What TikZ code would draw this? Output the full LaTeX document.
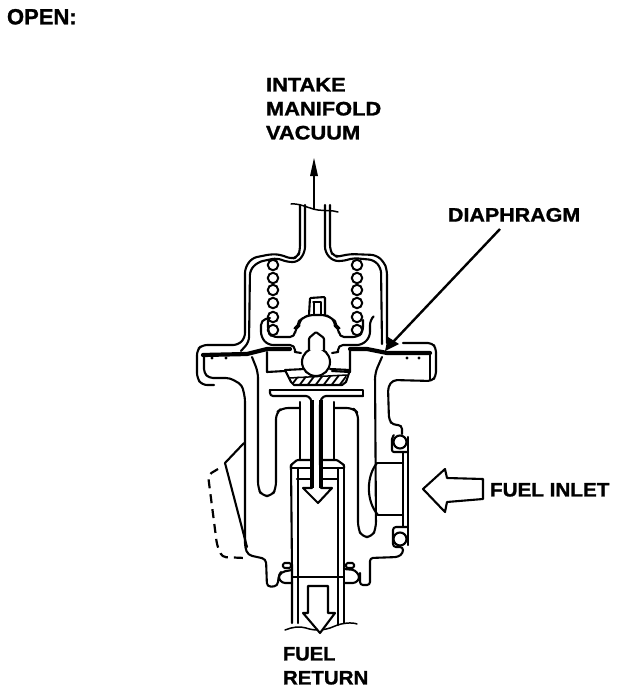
\documentclass[tikz,border=0pt]{standalone}
\usepackage{fontspec}
\setmainfont[BoldFeatures={FakeBold=1.2}]{Liberation Sans}
\tikzset{
  ln/.style={line width=2.1pt,line join=round,line cap=round,draw=black},
  thin ln/.style={line width=1.5pt,line join=round,line cap=round,draw=black},
  rc/.style={rounded corners=#1},
  hvy/.style={line width=4.2pt,line join=round,line cap=round,draw=black},
  lbl/.style={inner sep=0pt,outer sep=0pt,font=\bfseries\fontsize{19.5}{24}\selectfont,align=left,anchor=north west},
  coil/.style={line width=2pt,draw=black,fill=white}
}
\newcommand{\wdx}[2]{\scalebox{#1}[1]{#2}}
\begin{document}
\begin{tikzpicture}[x=1pt,y=-1pt]
\useasboundingbox[fill=white] (0,0) rectangle (624,694);
% labels
\node[lbl,font=\bfseries\fontsize{22}{24}\selectfont] (open) at (7,9) {OPEN:};
\node[lbl] (intake) at (266,78) {\wdx{1.12}{INTAKE}\\\wdx{1.12}{MANIFOLD}\\\wdx{1.12}{VACUUM}};
\node[lbl] (diaphragm) at (448,208) {\wdx{1.1}{DIAPHRAGM}};
\node[lbl] (inlet) at (490,483) {\wdx{1.06}{FUEL INLET}};
\node[lbl] (return) at (283,647) {\wdx{1.03}{FUEL}\\\wdx{1.05}{RETURN}};
% spring coils
\foreach \y in {265,278,290,303,317,330}{\draw[coil] (273,\y) circle (5.2);\draw[coil] (357,\y) circle (5.2);}
% upper housing, outer
\draw[ln,rc=5pt] (300,205) -- (300,250) -- (298,257) -- (291,259) -- (282,255) -- (272,254) -- (252,258) -- (245,268) -- (245,338) -- (238,345) -- (202,345) -- (197,350) -- (197,378) -- (202,385) -- (214,385);
\draw[ln,rc=4pt] (204,355) -- (204,373) -- (209,378) -- (230,378) -- (242,385) -- (245,398) -- (245,547) -- (248,555) -- (266,559) -- (267,587) -- (278,586) -- (278,578) -- (281,572) -- (292,570);
\draw[ln,rc=5pt] (330,205) -- (330,250) -- (334,257) -- (341,256) -- (350,254) -- (376,255) -- (384,262) -- (387,270) -- (387,343);
\draw[ln,rc=4pt] (403,343) -- (432,343) -- (436,348) -- (436,376) -- (432,381) -- (393,380) -- (388,387) -- (389,420) -- (393,425) -- (402,425) -- (402,434);
% upper housing, inner
\draw[ln,rc=5pt] (305,205) -- (305,252) -- (298,262) -- (287,262) -- (277,258) -- (258,262) -- (250,270) -- (249,342) -- (241,351);
\draw[ln,rc=5pt] (325,205) -- (325,252) -- (333,261) -- (344,261) -- (353,258) -- (374,260) -- (381,268) -- (382,344);
\draw[ln] (430,353) -- (430,380);
% chamber walls
\draw[ln,rc=6pt] (252,357) -- (258,372) -- (258,488) -- (262,496) -- (272,496) -- (276,488) -- (276,413) -- (282,408) -- (300,408);
\draw[ln,rc=6pt] (382,357) -- (375,373) -- (376,528) -- (372,537) -- (362,537) -- (358,528) -- (358,413) -- (353,408) -- (335,408);
% diaphragm
\draw[hvy] (203,355) -- (247,354) -- (267,349) -- (290,349);
\draw[hvy] (350,349) -- (367,349) -- (387,353) -- (430,353);
\foreach \x in {212,226,407,419}{\fill (\x,358) circle (1.6);}
% retainer
\draw[ln,rc=5pt] (270,318) -- (261,320) -- (261,337) -- (268,345) -- (295,345) -- (295,352);
\draw[ln,rc=5pt] (268,320) -- (268,332) -- (272,337) -- (295,337) -- (295,328) -- (299,326) -- (299,321) -- (303,318) -- (309,315) -- (326,315) -- (331,318) -- (335,321) -- (335,326) -- (339,328) -- (339,337) -- (358,337) -- (363,332) -- (363,320);
\draw[ln,rc=5pt] (372,318) -- (370,320) -- (370,337) -- (362,345) -- (338,345) -- (338,352);
\draw[ln,rc=1pt] (309,315) -- (310,298) -- (325,297) -- (325,315);
\draw[thin ln] (313,302) -- (321,302) (314,302) -- (314,314) (321,302) -- (321,314);
% valve seat and hatched part
\draw[ln] (295,352) -- (301,353);
\draw[ln] (338,352) -- (332,353);
\draw[ln] (267,352) -- (267,372) -- (285,371);
\draw[ln] (350,351) -- (350,372) -- (332,371);
\begin{scope}
\clip (290,377) -- (347,375) -- (343,385) -- (293,385) -- cycle;
\foreach \x in {290,298,...,354}{\draw[line width=1.8pt] (\x,387) -- (\x+10,374);}
\end{scope}
\draw[ln] (285,370) -- (291,382) -- (294,385) -- (342,385) -- (346,382) -- (350,370) -- (330,369) (285,370) -- (305,369);
\draw[thin ln] (289,378) -- (347,375);
% ball and stem
\draw[ln,fill=white] (316,362) circle (14);
\draw[ln,fill=white,rc=1pt] (309,350) -- (309,338) -- (316,332) -- (324,338) -- (324,350);
% plate
\draw[ln] (270,390) -- (363,390) -- (363,396);
\draw[ln,rc=3pt] (363,396) -- (323,396) -- (320,402) -- (320,465);
\draw[ln,rc=3pt] (270,390) -- (270,396) -- (309,396) -- (312,402) -- (312,465);
\draw[line width=3.4pt] (312,400) -- (312,488);
\draw[line width=3.4pt] (321,400) -- (321,488);
\draw[ln] (300,402) -- (300,460);
\draw[ln] (334,402) -- (334,460);
% cylinder
\draw[ln,rc=1pt] (291,468) -- (291,465) -- (297,460) -- (311,460);
\draw[ln,rc=1pt] (344,468) -- (344,465) -- (337,460) -- (322,460);
\draw[ln] (291,468) -- (311,468) (322,468) -- (344,468);
\draw[ln] (297,479) -- (311,479) (322,479) -- (338,479);
\draw[ln] (291,465) -- (292,570) -- (292,623);
\draw[ln] (298,468) -- (298,623);
\draw[ln] (338,468) -- (338,625);
\draw[ln] (344,465) -- (344,570) -- (344,623);
% inner arrow
\draw[ln] (312,488) -- (303,488) -- (318,503) -- (332,488) -- (321,488);
% collar
\draw[line width=2.4pt] (292,577) -- (344,577);
\draw[ln,rc=3pt] (281,572) -- (278,577) -- (282,583) -- (292,583);
\draw[ln,rc=3pt] (344,583) -- (356,583) -- (360,577) -- (355,570) -- (344,569);
\draw[ln,rc=3pt] (360,573) -- (360,585) -- (370,585) -- (370,558) -- (398,557) -- (403,553) -- (403,547) -- (393,547) -- (393,527) -- (407,527);
\draw[ln,fill=white,rc=1.5pt] (283,563) rectangle (291,568);
\draw[ln,fill=white,rc=1.5pt] (346,563) rectangle (354,568);
% inlet side
\draw[ln,rc=2pt] (394,435) -- (392,437) -- (392,452) -- (408,452);
\draw[ln] (408,437) -- (408,545);
\draw[ln] (403,452) -- (403,527);
\draw[ln] (377,463) -- (403,463);
\draw[ln] (378,515) -- (403,515);
\draw[ln] (377,463) .. controls (367,475) and (365,500) .. (378,515);
\draw[ln] (400,442) circle (6.5);
\draw[ln] (400,539) circle (6.5);
% tube breaks
\draw[thin ln] (291,204) .. controls (300,203) and (310,209) .. (318,210) .. controls (325,211) and (332,210) .. (338,212);
\draw[thin ln] (285,630) .. controls (292,627) and (300,626) .. (306,628) .. controls (312,630) and (322,632) .. (335,626) .. controls (342,623) and (352,622) .. (357,624);
% dashed shell
\draw[ln] (244,443) -- (225,463) -- (247,547);
\draw[line width=2.2pt,dash pattern=on 9pt off 6pt,rc=4pt] (218,469) -- (208,475) -- (217,545) -- (222,557) -- (245,558);
% outlet arrow
\draw[ln,fill=white] (308,586) -- (328,586) -- (328,613) -- (335,613) -- (320,633) -- (303,613) -- (308,613) -- cycle;
% vacuum arrow
\coordinate (tubetop) at (314,210);
\coordinate (vacuumtip) at (314,158);
\draw[line width=2.2pt] (tubetop) -- (314,172);
\fill (vacuumtip) -- (318,176) -- (310,176) -- cycle;
% diaphragm leader
\coordinate (leaderstart) at (500,229);
\coordinate (leadertip) at (385,351);
\draw[line width=2.4pt] (leaderstart) -- (393,342);
\fill (leadertip) -- (388,337) -- (399,344) -- cycle;
% inlet arrow
\draw[ln] (423,489) -- (445,469) -- (447,478) -- (483,479) -- (483,499) -- (447,502) -- (445,512) -- cycle;
\end{tikzpicture}
\end{document}
